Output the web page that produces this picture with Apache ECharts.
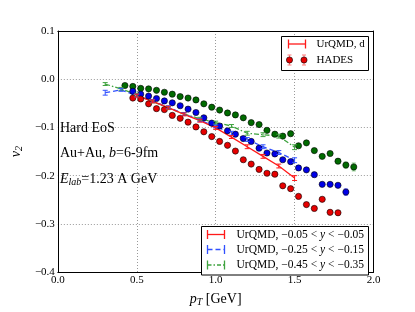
<!DOCTYPE html>
<html><head><meta charset="utf-8">
<script src="https://cdn.jsdelivr.net/npm/echarts@6/dist/echarts.min.js"></script>
<style>html,body{margin:0;padding:0;background:#fff}#c{width:415px;height:312px}</style>
</head><body><div id="c"></div>
<script>
// ---- HADES data (dots) ----
const hadesPtRed = [0.475,0.525,0.575,0.625,0.675,0.725,0.775,0.825,0.875,0.925,0.975,1.025,1.075,1.125,1.175,1.225,1.275,1.325,1.375,1.425,1.475,1.525,1.575,1.625,1.675,1.725,1.775];
const hadesV2Red = [-0.039,-0.041,-0.051,-0.061,-0.063,-0.075,-0.081,-0.089,-0.099,-0.109,-0.119,-0.129,-0.137,-0.149,-0.167,-0.176,-0.187,-0.195,-0.197,-0.221,-0.227,-0.243,-0.260,-0.268,-0.249,-0.276,-0.277];
const hadesErrRed = [0.002,0.002,0.002,0.002,0.002,0.002,0.002,0.002,0.002,0.002,0.002,0.002,0.002,0.002,0.002,0.002,0.002,0.002,0.002,0.002,0.002,0.003,0.003,0.003,0.004,0.005,0.005];

const hadesPtBlue = [0.475,0.525,0.575,0.625,0.675,0.725,0.775,0.825,0.875,0.925,0.975,1.025,1.075,1.125,1.175,1.225,1.275,1.325,1.375,1.425,1.475,1.525,1.575,1.625,1.675,1.725,1.775,1.825];
const hadesV2Blue = [-0.025,-0.031,-0.035,-0.040,-0.045,-0.049,-0.055,-0.062,-0.069,-0.080,-0.091,-0.097,-0.107,-0.114,-0.123,-0.129,-0.143,-0.153,-0.155,-0.167,-0.171,-0.184,-0.188,-0.198,-0.218,-0.218,-0.220,-0.234];
const hadesErrBlue = [0.002,0.002,0.002,0.002,0.002,0.002,0.002,0.002,0.002,0.002,0.002,0.002,0.002,0.002,0.002,0.002,0.002,0.002,0.002,0.002,0.002,0.002,0.003,0.003,0.003,0.004,0.004,0.007];

const hadesPtGreen = [0.425,0.475,0.525,0.575,0.625,0.675,0.725,0.775,0.825,0.875,0.925,0.975,1.025,1.075,1.125,1.175,1.225,1.275,1.325,1.375,1.425,1.475,1.525,1.575,1.625,1.675,1.725,1.775,1.825,1.875];
const hadesV2Green = [-0.013,-0.015,-0.019,-0.020,-0.023,-0.027,-0.031,-0.036,-0.039,-0.043,-0.051,-0.058,-0.064,-0.070,-0.074,-0.080,-0.090,-0.094,-0.106,-0.114,-0.118,-0.113,-0.138,-0.132,-0.148,-0.160,-0.154,-0.170,-0.178,-0.182];
const hadesErrGreen = [0.002,0.002,0.002,0.002,0.002,0.002,0.002,0.002,0.002,0.002,0.002,0.002,0.002,0.002,0.002,0.002,0.002,0.002,0.002,0.002,0.002,0.003,0.003,0.003,0.003,0.003,0.004,0.004,0.006,0.008];

// ---- UrQMD curves ----
const urqmdPtRed = [0.5,0.6,0.7,0.8,0.9,1.0,1.1,1.2,1.3,1.4,1.5];
const urqmdV2Red = [-0.034,-0.046,-0.059,-0.073,-0.086,-0.101,-0.120,-0.140,-0.160,-0.180,-0.205];
const urqmdErrRed = [0.003,0.003,0.003,0.003,0.003,0.003,0.003,0.004,0.004,0.004,0.005];

const urqmdPtBlue = [0.3,0.4,0.5,0.6,0.7,0.8,0.9,1.0,1.1,1.2,1.3,1.4,1.5];
const urqmdV2Blue = [-0.028,-0.022,-0.034,-0.045,-0.058,-0.072,-0.085,-0.098,-0.112,-0.125,-0.140,-0.152,-0.168];
const urqmdErrBlue = [0.005,0.003,0.003,0.003,0.003,0.003,0.003,0.003,0.004,0.004,0.004,0.004,0.005];

const urqmdPtGreen = [0.3,0.4,0.5,0.6,0.7,0.8,0.9,1.0,1.1,1.2,1.3,1.4,1.5];
const urqmdV2Green = [-0.010,-0.020,-0.032,-0.046,-0.060,-0.072,-0.082,-0.090,-0.097,-0.112,-0.115,-0.118,-0.141];
const urqmdErrGreen = [0.003,0.003,0.003,0.003,0.003,0.003,0.003,0.003,0.003,0.004,0.004,0.004,0.005];

// ---- axes ----
const xTicks = [0.0,0.5,1.0,1.5,2.0];
const yTicks = [0.1,0.0,-0.1,-0.2,-0.3,-0.4];

const FONT = 'Liberation Serif';
const chart = echarts.init(document.getElementById('c'), null, {renderer:'canvas'});
function fmt(v){ const s = Math.abs(v).toFixed(1); return (v < -1e-9 ? '\u2212' : '') + s; }

function pairs(xs, ys, es){ return xs.map((x,i)=> es ? [x, ys[i], es[i]] : [x, ys[i]]); }

function errSeries(xs, ys, es, color, capHalf, z){
  return {
    type:'custom', z:z, silent:true,
    data: pairs(xs, ys, es),
    encode:{x:0, y:1},
    renderItem:(params, api)=>{
      const x = api.value(0), y = api.value(1), e = api.value(2);
      const t = api.coord([x, y+e]), b = api.coord([x, y-e]);
      const st = {stroke:color, lineWidth:1};
      return {type:'group', children:[
        {type:'line', shape:{x1:t[0],y1:t[1],x2:b[0],y2:b[1]}, style:st},
        {type:'line', shape:{x1:t[0]-capHalf,y1:t[1],x2:t[0]+capHalf,y2:t[1]}, style:st},
        {type:'line', shape:{x1:b[0]-capHalf,y1:b[1],x2:b[0]+capHalf,y2:b[1]}, style:st}
      ]};
    }
  };
}
function dots(xs, ys, color){
  return {type:'scatter', data:pairs(xs,ys), symbol:'circle', symbolSize:6.2, z:5,
    itemStyle:{color:color, borderColor:'#000', borderWidth:0.6, opacity:1}};
}
function curve(xs, ys, color, dash){
  return {type:'line', data:pairs(xs,ys), symbol:'none', z:4, silent:true,
    lineStyle:{color:color, width:1.3, type:dash}};
}

const cRed='#ff1a1a', cBlue='#3050ff', cGreen='#3fa33f';

const series = [
  errSeries(hadesPtRed, hadesV2Red, hadesErrRed, '#ff7a7a', 2, 2),
  errSeries(hadesPtBlue, hadesV2Blue, hadesErrBlue, '#8a8aff', 2, 2),
  errSeries(hadesPtGreen, hadesV2Green, hadesErrGreen, '#6fbf6f', 2, 2),
  dots(hadesPtGreen, hadesV2Green, '#006a00'),
  dots(hadesPtBlue, hadesV2Blue, '#0000e6'),
  dots(hadesPtRed, hadesV2Red, '#e60000'),
  curve(urqmdPtGreen, urqmdV2Green, cGreen, [5,2,1.5,2]),
  curve(urqmdPtBlue, urqmdV2Blue, cBlue, [5,3]),
  curve(urqmdPtRed, urqmdV2Red, cRed, 'solid'),
  errSeries(urqmdPtGreen, urqmdV2Green, urqmdErrGreen, cGreen, 2.5, 6),
  errSeries(urqmdPtBlue, urqmdV2Blue, urqmdErrBlue, cBlue, 2.5, 6),
  errSeries(urqmdPtRed, urqmdV2Red, urqmdErrRed, cRed, 2.5, 6)
];

const legText = (x,y,text,size,rich)=>({type:'text', x:x, y:y, z:100,
  style:Object.assign({text:text, fontSize:size, fill:'#000', fontFamily:FONT, verticalAlign:'middle', align:'left'}, rich?{rich:rich}:{})});
function hSym(x1,x2,y,color,dash){
  const st = {stroke:color, lineWidth:1.3};
  return [
    {type:'line', z:100, shape:{x1:x1,y1:y,x2:x2,y2:y}, style:Object.assign({}, st, dash?{lineDash:dash}:{})},
    {type:'line', z:100, shape:{x1:x1,y1:y-4.5,x2:x1,y2:y+4.5}, style:st},
    {type:'line', z:100, shape:{x1:x2,y1:y-4.5,x2:x2,y2:y+4.5}, style:st}
  ];
}
function legDot(x,y){
  const st={stroke:'#ff7a7a', lineWidth:1};
  return [
    {type:'line', z:100, shape:{x1:x,y1:y-5,x2:x,y2:y+5}, style:st},
    {type:'line', z:100, shape:{x1:x-2,y1:y-5,x2:x+2,y2:y-5}, style:st},
    {type:'line', z:100, shape:{x1:x-2,y1:y+5,x2:x+2,y2:y+5}, style:st},
    {type:'circle', z:101, shape:{cx:x,cy:y,r:3.1}, style:{fill:'#e60000', stroke:'#000', lineWidth:0.6}}
  ];
}
const richY = {i:{fontStyle:'italic', fontFamily:FONT, fontSize:11.5}};

const graphic = [
  {type:'rect', z:99, shape:{x:281.5,y:36.5,width:87,height:34}, style:{fill:'#fff', stroke:'#000', lineWidth:1}},
  ...hSym(288.5,305.5,44,cRed,null),
  legText(316.5,44,'UrQMD, d',11),
  ...legDot(289.5,60), ...legDot(304,60),
  legText(316.5,60,'HADES',11),
  {type:'rect', z:99, shape:{x:201.5,y:226.5,width:167,height:48.5}, style:{fill:'#fff', stroke:'#000', lineWidth:1}},
  ...hSym(207.5,224.5,234.5,cRed,null),
  legText(236.5,234.5,'UrQMD, \u22120.05 < {i|y} < \u22120.05',11.5, richY),
  ...hSym(207.5,224.5,249.5,cBlue,[5,3]),
  legText(236.5,249.5,'UrQMD, \u22120.25 < {i|y} < \u22120.15',11.5, richY),
  ...hSym(207.5,224.5,265,cGreen,[4,2,1.5,2]),
  legText(236.5,265,'UrQMD, \u22120.45 < {i|y} < \u22120.35',11.5, richY),
  {type:'text', x:60, y:128, z:100, style:{text:'Hard EoS', fontSize:14, fontFamily:FONT, fill:'#000', verticalAlign:'middle'}},
  {type:'text', x:60, y:153, z:100, style:{text:'Au+Au, {i|b}=6-9fm', fontSize:14, fontFamily:FONT, fill:'#000', verticalAlign:'middle',
    rich:{i:{fontStyle:'italic', fontSize:14, fontFamily:FONT}}}},
  {type:'text', x:60, y:179, z:100, style:{text:'{i|E}{s|lab}=1.23 A GeV', fontSize:14, fontFamily:FONT, fill:'#000', verticalAlign:'middle', lineHeight:16,
    rich:{i:{fontStyle:'italic', fontSize:14, fontFamily:FONT, lineHeight:16}, s:{fontStyle:'italic', fontSize:10, fontFamily:FONT, verticalAlign:'bottom', lineHeight:10}}}}
];

const baseX = {type:'value', min:0, max:2, interval:0.5};
const baseY = {type:'value', min:-0.4, max:0.1, interval:0.1};
const lineBlk = {show:true, onZero:false, lineStyle:{color:'#000', width:1}};

chart.setOption({
  animation:false,
  backgroundColor:'#fff',
  grid:{left:52, right:41.5, top:31, bottom:31.5, containLabel:false},
  xAxis:[
    Object.assign({}, baseX, {position:'bottom', axisLine:lineBlk, axisTick:{show:false},
      axisLabel:{margin:3, fontSize:11, fontFamily:FONT, color:'#000', formatter:v=>fmt(v)},
      splitLine:{show:true, lineStyle:{color:'#999', type:[1,2], width:1}},
      name:'{i|p}{s|T} [GeV]', nameLocation:'middle', nameGap:1,
      nameTextStyle:{fontSize:14, fontFamily:FONT, color:'#000', lineHeight:16, verticalAlign:'top',
        rich:{i:{fontStyle:'italic', fontSize:14, fontFamily:FONT, lineHeight:16}, s:{fontStyle:'italic', fontSize:10, fontFamily:FONT, verticalAlign:'bottom', lineHeight:10}}}}),
    Object.assign({}, baseX, {position:'top', axisLine:lineBlk, axisTick:{show:false}, axisLabel:{show:false}, splitLine:{show:false}})
  ],
  yAxis:[
    Object.assign({}, baseY, {position:'left', axisLine:lineBlk, axisTick:{show:false},
      axisLabel:{margin:3, fontSize:11, fontFamily:FONT, color:'#000', formatter:v=>fmt(v)},
      splitLine:{show:true, lineStyle:{color:'#999', type:[1,2], width:1}},
      name:'{i|v}{s|2}', nameLocation:'middle', nameGap:30, nameRotate:90,
      nameTextStyle:{fontSize:14, fontFamily:FONT, color:'#000', lineHeight:16,
        rich:{i:{fontStyle:'italic', fontSize:14, fontFamily:FONT, lineHeight:16}, s:{fontStyle:'italic', fontSize:10, fontFamily:FONT, verticalAlign:'bottom', lineHeight:10}}}}),
    Object.assign({}, baseY, {position:'right', axisLine:lineBlk, axisTick:{show:false}, axisLabel:{show:false}, splitLine:{show:false}})
  ],
  series: series,
  graphic: graphic
});
</script>
</body></html>
